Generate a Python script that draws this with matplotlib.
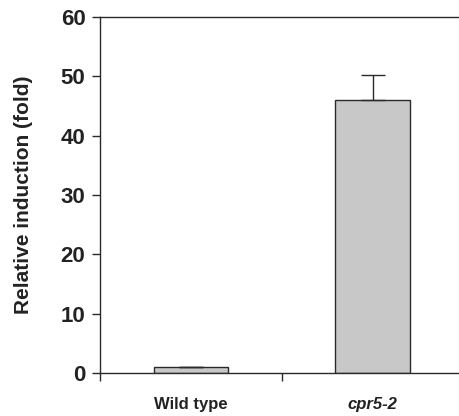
import matplotlib
matplotlib.use("Agg")
import matplotlib.pyplot as plt
from matplotlib.ticker import FixedLocator, NullFormatter

categories = ["Wild type", "cpr5-2"]
values = [1.0, 46.0]
errors = [0.05, 4.2]
yticks = [0, 10, 20, 30, 40, 50, 60]

plt.rcParams['font.family'] = ['Liberation Sans', 'DejaVu Sans']

fig = plt.figure(figsize=(4.6, 4.16), dpi=100)
ax = fig.add_axes([0.2174, 0.1034, 0.79, 0.8556])

pos = [0.5, 1.5]
ax.bar(pos, values, width=0.41, color='#c8c8c9', edgecolor='#2a2a2a', linewidth=1.0, zorder=2)
ax.errorbar(pos, values, yerr=[[0, 0], errors], fmt='none', ecolor='#2a2a2a',
            elinewidth=1.0, capsize=8.5, capthick=1.0, zorder=3)

ax.set_xlim(0, 2)
ax.set_ylim(0, 60)
ax.set_yticks(yticks)
ax.set_yticklabels([str(t) for t in yticks], fontsize=16, fontweight='bold', color='#222222')
ax.xaxis.set_major_locator(FixedLocator([0, 1, 2]))
ax.xaxis.set_major_formatter(NullFormatter())
ax.xaxis.set_minor_locator(FixedLocator(pos))
ax.set_xticklabels(categories, minor=True)
for lab, style in zip(ax.get_xticklabels(minor=True), ['normal', 'italic']):
    lab.set_fontsize(12)
    lab.set_fontweight('bold')
    lab.set_fontstyle(style)
    lab.set_color('#222222')
ax.tick_params(axis='x', which='minor', length=0, pad=17)
ax.tick_params(axis='x', which='major', length=5.5, width=1.0, direction='out', color='#2a2a2a')
ax.tick_params(axis='y', length=5.5, width=1.0, direction='out', color='#2a2a2a', pad=5)

for s in ['left', 'bottom', 'top']:
    ax.spines[s].set_linewidth(1.0)
    ax.spines[s].set_color('#2a2a2a')
ax.spines['right'].set_visible(False)

ax.set_ylabel('Relative induction (fold)', fontsize=15, fontweight='bold', color='#222222', labelpad=20)

fig.savefig('out.png', dpi=100)
